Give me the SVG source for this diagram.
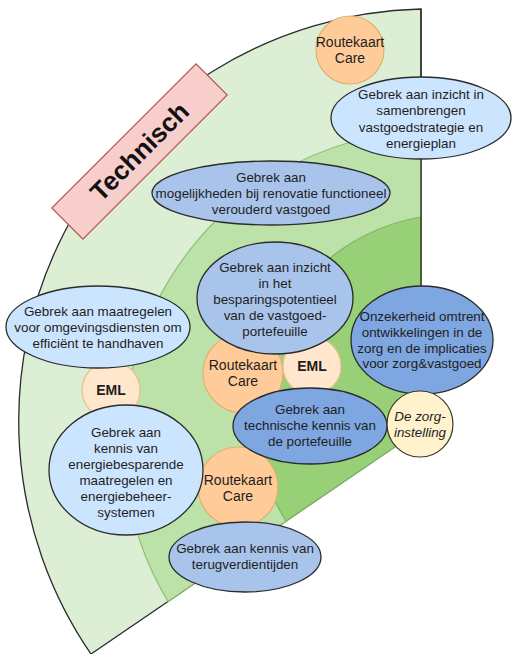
<svg xmlns="http://www.w3.org/2000/svg" width="512" height="654" viewBox="0 0 512 654">
  <defs>
    <style>
      text { font-family: "Liberation Sans", Arial, sans-serif; font-size: 13.4px; fill: #1e1e1e; text-anchor: middle; }
      .ring-outer { fill: #dcefd5; stroke: #2b2b2b; stroke-width: 1.3; }
      .ring-mid { fill: #bde2a9; stroke: #8cc070; stroke-width: 1.2; }
      .ring-inner { fill: #97d077; stroke: #82b366; stroke-width: 1.2; }
      .edge { stroke: #2b2b2b; stroke-width: 1.3; fill: none; }
      .rc { fill: #ffcc99; stroke: #e0b070; stroke-width: 1.2; }
      .eml { fill: #ffe6cc; stroke: #e6c28a; stroke-width: 1.2; }
      .zorg { fill: #fff2cc; stroke: #3a3a2a; stroke-width: 1.2; }
      .b1 { fill: #cce5ff; stroke: #2b2b2b; stroke-width: 1.3; }
      .b2 { fill: #a9c4eb; stroke: #2b2b2b; stroke-width: 1.3; }
      .b3 { fill: #7ea6e0; stroke: #2b2b2b; stroke-width: 1.3; }
      .bold { font-weight: bold; font-size: 14px; }
      .rct { font-size: 14px; }
      .it { font-style: italic; }
    </style>
  </defs>

  <!-- concentric sector bands -->
  <g id="rings">
    <path class="ring-outer" d="M421,9 A412,412 0 0 0 91,654 L421,429 Z"/>
    <path class="ring-mid" d="M421,131 A311,311 0 0 0 168,601.5 L421,429 Z"/>
    <path class="ring-inner" d="M421,217 A200,200 0 0 0 286,521 L421,429 Z"/>
    <line class="edge" x1="421" y1="9" x2="421" y2="420"/>
  </g>

  <g id="connectors"></g>

  <!-- category label -->
  <g id="label-technisch" transform="translate(139.5,151.5) rotate(-45)">
    <rect x="-102" y="-22" width="204" height="44" fill="#f8cecc" stroke="#b85450" stroke-width="1.2"/>
    <text x="0" y="9" style="font-size:26px;font-weight:bold;fill:#111">Technisch</text>
  </g>

  <!-- actor circles -->
  <g id="rc-top">
    <circle class="rc" cx="350" cy="50" r="34"/>
    <text class="rct" x="350" y="47">Routekaart</text>
    <text class="rct" x="350" y="63">Care</text>
  </g>
  <g id="eml-left">
    <circle class="eml" cx="111" cy="390" r="29"/>
    <text class="bold" x="111" y="395">EML</text>
  </g>
  <g id="rc-mid">
    <circle class="rc" cx="243" cy="373" r="40"/>
    <text class="rct" x="243" y="370">Routekaart</text>
    <text class="rct" x="243" y="386">Care</text>
  </g>
  <g id="eml-mid">
    <circle class="eml" cx="312" cy="366" r="29"/>
    <text class="bold" x="312" y="371">EML</text>
  </g>
  <g id="rc-bot">
    <circle class="rc" cx="238" cy="487" r="40"/>
    <text class="rct" x="238" y="485">Routekaart</text>
    <text class="rct" x="238" y="501">Care</text>
  </g>

  <!-- problem ellipses -->
  <g id="samenbrengen">
    <ellipse class="b1" cx="421" cy="118" rx="90" ry="41"/>
    <text x="421" y="99">Gebrek aan inzicht in</text>
    <text x="421" y="115">samenbrengen</text>
    <text x="421" y="132">vastgoedstrategie en</text>
    <text x="421" y="148">energieplan</text>
  </g>
  <g id="renovatie">
    <ellipse class="b2" cx="271" cy="193" rx="119" ry="32"/>
    <text x="271" y="182">Gebrek aan</text>
    <text x="271" y="198">mogelijkheden bij renovatie functioneel</text>
    <text x="271" y="214">verouderd vastgoed</text>
  </g>
  <g id="besparing">
    <ellipse class="b2" cx="275" cy="298" rx="78" ry="56"/>
    <text x="275" y="272">Gebrek aan inzicht</text>
    <text x="275" y="288">in het</text>
    <text x="275" y="304">besparingspotentieel</text>
    <text x="275" y="320">van de vastgoed-</text>
    <text x="275" y="336">portefeuille</text>
  </g>
  <g id="omgevingsdiensten">
    <ellipse class="b1" cx="98" cy="327" rx="92" ry="41"/>
    <text x="98" y="316">Gebrek aan maatregelen</text>
    <text x="98" y="332">voor omgevingsdiensten om</text>
    <text x="98" y="348">efficiënt te handhaven</text>
  </g>
  <g id="onzekerheid">
    <ellipse class="b3" cx="422" cy="340" rx="71" ry="54"/>
    <text x="422" y="321">Onzekerheid omtrent</text>
    <text x="422" y="337">ontwikkelingen in de</text>
    <text x="422" y="353">zorg en de implicaties</text>
    <text x="422" y="368">voor zorg&amp;vastgoed</text>
  </g>
  <g id="technische-kennis">
    <ellipse class="b3" cx="310" cy="426" rx="77" ry="38"/>
    <text x="310" y="414">Gebrek aan</text>
    <text x="310" y="430">technische kennis van</text>
    <text x="310" y="446">de portefeuille</text>
  </g>
  <g id="zorginstelling">
    <circle class="zorg" cx="420" cy="424" r="33"/>
    <text class="it" x="420" y="421">De zorg-</text>
    <text class="it" x="420" y="437">instelling</text>
  </g>
  <g id="energiekennis">
    <ellipse class="b1" cx="126" cy="470" rx="77" ry="65"/>
    <text x="126" y="437">Gebrek aan</text>
    <text x="126" y="453">kennis van</text>
    <text x="126" y="469">energiebesparende</text>
    <text x="126" y="485">maatregelen en</text>
    <text x="126" y="501">energiebeheer-</text>
    <text x="126" y="517">systemen</text>
  </g>
  <g id="terugverdientijden">
    <ellipse class="b2" cx="245" cy="557" rx="76" ry="35"/>
    <text x="245" y="553">Gebrek aan kennis van</text>
    <text x="245" y="569">terugverdientijden</text>
  </g>
</svg>
